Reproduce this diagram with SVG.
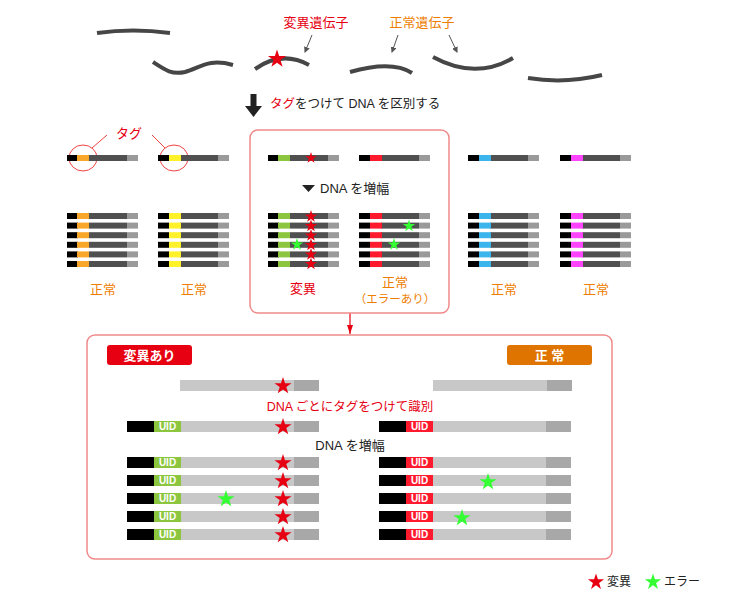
<svg xmlns="http://www.w3.org/2000/svg" xmlns:xlink="http://www.w3.org/1999/xlink" width="730" height="590" viewBox="0 0 730 590">
<style>
text{font-family:"Liberation Sans","Noto Sans CJK JP",sans-serif;}
.gene{fill:none;stroke:#464646;stroke-width:4;}
.t13{font-size:13px;}
.red{fill:#e60012;}
.org{fill:#ee7d00;}
.blk{fill:#222;}
.box{fill:none;stroke:#f08a8a;stroke-width:1.5;}
.k{fill:#000;}
.d{fill:#505050;}
.l{fill:#9a9a9a;}
.bl{fill:#c8c8c8;}
.bd{fill:#a8a8a8;}
.uid{font-size:10px;font-weight:bold;fill:#fff;text-anchor:middle;}
.lab{font-size:13px;text-anchor:middle;}
.ptr{stroke:#555;stroke-width:1;fill:none;}
</style>
<defs>
<path id="star" d="M0,-1 L0.2245,-0.309 L0.9511,-0.309 L0.3633,0.118 L0.5878,0.809 L0,0.382 L-0.5878,0.809 L-0.3633,0.118 L-0.9511,-0.309 L-0.2245,-0.309 Z"/>
<g id="sb"><rect class="k" x="0" y="0" width="11" height="6"/><rect class="d" x="22" y="0" width="38" height="6"/><rect class="l" x="60" y="0" width="11" height="6"/></g>
<g id="bt"><rect class="k" x="0" y="0" width="27" height="11"/><rect class="bl" x="54" y="0" width="113" height="11"/><rect class="bd" x="167" y="0" width="25" height="11"/></g>
<g id="bu"><rect class="bl" x="0" y="0" width="114" height="11"/><rect class="bd" x="114" y="0" width="25" height="11"/></g>
<marker id="ah" markerWidth="6" markerHeight="6" refX="5" refY="3" orient="auto" markerUnits="userSpaceOnUse"><path d="M0,0 L6,3 L0,6 Z" fill="#555"/></marker>
<marker id="ahr" markerWidth="10" markerHeight="6" refX="9" refY="3" orient="auto" markerUnits="userSpaceOnUse"><path d="M0,0 L9,3 L0,6 Z" fill="#e60012"/></marker>
</defs>

<g id="genes">
<path class="gene" d="M97,33 Q133,28 170,33"/>
<path class="gene" d="M153,62 C165,70 172,75 185,72 C200,68 208,58 233,65"/>
<path class="gene" d="M255,69 Q282,50 309,65"/>
<path class="gene" d="M350,72 Q392,60 412,73"/>
<path class="gene" d="M433,57 Q475,80 513,58"/>
<path class="gene" d="M528,78 Q565,84 602,75"/>
<use href="#star" transform="translate(277,59) scale(9.5)" fill="#e60012"/>
</g>

<g id="gene-labels">
<text class="t13 red" x="316" y="27" text-anchor="middle">変異遺伝子</text>
<text class="t13 org" x="422" y="27" text-anchor="middle">正常遺伝子</text>
</g>

<g id="connectors">
<line class="ptr" x1="312" y1="35" x2="305" y2="52" marker-end="url(#ah)"/>
<line class="ptr" x1="398" y1="35" x2="392" y2="52" marker-end="url(#ah)"/>
<line class="ptr" x1="449" y1="35" x2="457" y2="52" marker-end="url(#ah)"/>
<path d="M250.5,94 H256.5 V106 H262 L253.5,117 L245,106 H250.5 Z" fill="#222"/>
<line x1="350" y1="313" x2="350" y2="334" stroke="#e60012" stroke-width="1.2" marker-end="url(#ahr)"/>
<line x1="92" y1="148" x2="107" y2="135" stroke="#ee4444" stroke-width="1"/>
<line x1="152" y1="135" x2="165" y2="148" stroke="#ee4444" stroke-width="1"/>
</g>

<g id="step1-label">
<text class="t13" x="270" y="108" style="font-size:12.5px"><tspan class="red">タグ</tspan><tspan class="blk">をつけて DNA を区別する</tspan></text>
</g>

<g id="tag-label">
<text class="red" x="129" y="138" text-anchor="middle" style="font-size:13px">タグ</text>
<ellipse cx="83" cy="158" rx="14" ry="13" fill="none" stroke="#ee4444" stroke-width="1"/>
<ellipse cx="174" cy="158" rx="14" ry="13" fill="none" stroke="#ee4444" stroke-width="1"/>
</g>

<g id="s1">
<use href="#sb" x="67" y="155"/><rect x="77" y="155" width="12" height="6" fill="#f9a72b"/>
<use href="#sb" x="67" y="213"/><rect x="77" y="213" width="12" height="6" fill="#f9a72b"/>
<use href="#sb" x="67" y="222.6"/><rect x="77" y="222.6" width="12" height="6" fill="#f9a72b"/>
<use href="#sb" x="67" y="232.2"/><rect x="77" y="232.2" width="12" height="6" fill="#f9a72b"/>
<use href="#sb" x="67" y="241.8"/><rect x="77" y="241.8" width="12" height="6" fill="#f9a72b"/>
<use href="#sb" x="67" y="251.4"/><rect x="77" y="251.4" width="12" height="6" fill="#f9a72b"/>
<use href="#sb" x="67" y="261"/><rect x="77" y="261" width="12" height="6" fill="#f9a72b"/>
<text class="lab org" x="103" y="294">正常</text>
</g>

<g id="s2">
<use href="#sb" x="158" y="155"/><rect x="169" y="155" width="12" height="6" fill="#fff22a"/>
<use href="#sb" x="158" y="213"/><rect x="169" y="213" width="12" height="6" fill="#fff22a"/>
<use href="#sb" x="158" y="222.6"/><rect x="169" y="222.6" width="12" height="6" fill="#fff22a"/>
<use href="#sb" x="158" y="232.2"/><rect x="169" y="232.2" width="12" height="6" fill="#fff22a"/>
<use href="#sb" x="158" y="241.8"/><rect x="169" y="241.8" width="12" height="6" fill="#fff22a"/>
<use href="#sb" x="158" y="251.4"/><rect x="169" y="251.4" width="12" height="6" fill="#fff22a"/>
<use href="#sb" x="158" y="261"/><rect x="169" y="261" width="12" height="6" fill="#fff22a"/>
<text class="lab org" x="194" y="294">正常</text>
</g>

<g id="mid-box">
<rect class="box" x="250" y="130" width="199" height="183" rx="8"/>
<path d="M302,185 H315 L308.5,192 Z" fill="#222"/>
<text class="t13 blk" x="320" y="193">DNA を増幅</text>
</g>

<g id="s3">
<use href="#sb" x="268" y="155"/><rect x="278" y="155" width="12" height="6" fill="#8cc63f"/>
<use href="#star" transform="translate(311,158) scale(6)" fill="#e60012"/>
<use href="#sb" x="268" y="213"/><rect x="278" y="213" width="12" height="6" fill="#8cc63f"/>
<use href="#sb" x="268" y="222.6"/><rect x="278" y="222.6" width="12" height="6" fill="#8cc63f"/>
<use href="#sb" x="268" y="232.2"/><rect x="278" y="232.2" width="12" height="6" fill="#8cc63f"/>
<use href="#sb" x="268" y="241.8"/><rect x="278" y="241.8" width="12" height="6" fill="#8cc63f"/>
<use href="#sb" x="268" y="251.4"/><rect x="278" y="251.4" width="12" height="6" fill="#8cc63f"/>
<use href="#sb" x="268" y="261"/><rect x="278" y="261" width="12" height="6" fill="#8cc63f"/>
<use href="#star" transform="translate(311,216.5) scale(6.5)" fill="#e60012"/>
<use href="#star" transform="translate(311,226) scale(6.5)" fill="#e60012"/>
<use href="#star" transform="translate(311,235.5) scale(6.5)" fill="#e60012"/>
<use href="#star" transform="translate(311,245) scale(6.5)" fill="#e60012"/>
<use href="#star" transform="translate(311,254.5) scale(6.5)" fill="#e60012"/>
<use href="#star" transform="translate(311,264) scale(6.5)" fill="#e60012"/>
<use href="#star" transform="translate(297,244.5) scale(6.5)" fill="#33ff33"/>
<text class="lab red" x="303" y="293">変異</text>
</g>

<g id="s4">
<use href="#sb" x="359" y="155"/><rect x="370" y="155" width="12" height="6" fill="#ff1a2e"/>
<use href="#sb" x="359" y="213"/><rect x="370" y="213" width="12" height="6" fill="#ff1a2e"/>
<use href="#sb" x="359" y="222.6"/><rect x="370" y="222.6" width="12" height="6" fill="#ff1a2e"/>
<use href="#sb" x="359" y="232.2"/><rect x="370" y="232.2" width="12" height="6" fill="#ff1a2e"/>
<use href="#sb" x="359" y="241.8"/><rect x="370" y="241.8" width="12" height="6" fill="#ff1a2e"/>
<use href="#sb" x="359" y="251.4"/><rect x="370" y="251.4" width="12" height="6" fill="#ff1a2e"/>
<use href="#sb" x="359" y="261"/><rect x="370" y="261" width="12" height="6" fill="#ff1a2e"/>
<use href="#star" transform="translate(409,226) scale(6.5)" fill="#33ff33"/>
<use href="#star" transform="translate(394,244.5) scale(6.5)" fill="#33ff33"/>
<text class="lab org" x="395" y="287">正常</text>
<text class="org" x="395" y="303" text-anchor="middle" style="font-size:11.5px">（エラーあり）</text>
</g>

<g id="s5">
<use href="#sb" x="468" y="155"/><rect x="479" y="155" width="12" height="6" fill="#3cb5ec"/>
<use href="#sb" x="468" y="213"/><rect x="479" y="213" width="12" height="6" fill="#3cb5ec"/>
<use href="#sb" x="468" y="222.6"/><rect x="479" y="222.6" width="12" height="6" fill="#3cb5ec"/>
<use href="#sb" x="468" y="232.2"/><rect x="479" y="232.2" width="12" height="6" fill="#3cb5ec"/>
<use href="#sb" x="468" y="241.8"/><rect x="479" y="241.8" width="12" height="6" fill="#3cb5ec"/>
<use href="#sb" x="468" y="251.4"/><rect x="479" y="251.4" width="12" height="6" fill="#3cb5ec"/>
<use href="#sb" x="468" y="261"/><rect x="479" y="261" width="12" height="6" fill="#3cb5ec"/>
<text class="lab org" x="504" y="294">正常</text>
</g>

<g id="s6">
<use href="#sb" x="560" y="155"/><rect x="571" y="155" width="12" height="6" fill="#ff44ff"/>
<use href="#sb" x="560" y="213"/><rect x="571" y="213" width="12" height="6" fill="#ff44ff"/>
<use href="#sb" x="560" y="222.6"/><rect x="571" y="222.6" width="12" height="6" fill="#ff44ff"/>
<use href="#sb" x="560" y="232.2"/><rect x="571" y="232.2" width="12" height="6" fill="#ff44ff"/>
<use href="#sb" x="560" y="241.8"/><rect x="571" y="241.8" width="12" height="6" fill="#ff44ff"/>
<use href="#sb" x="560" y="251.4"/><rect x="571" y="251.4" width="12" height="6" fill="#ff44ff"/>
<use href="#sb" x="560" y="261"/><rect x="571" y="261" width="12" height="6" fill="#ff44ff"/>
<text class="lab org" x="596" y="294">正常</text>
</g>

<g id="bottom-box">
<rect class="box" x="87" y="335" width="525" height="224" rx="8"/>
<rect x="107" y="345" width="85" height="20" rx="3" fill="#e60012"/>
<text x="149.5" y="360" text-anchor="middle" fill="#fff" style="font-size:13px;font-weight:bold">変異あり</text>
<rect x="507" y="345" width="85" height="20" rx="3" fill="#df7400"/>
<text x="549.5" y="360" text-anchor="middle" fill="#fff" style="font-size:13px;font-weight:bold">正 常</text>
<text class="red" x="350" y="411" text-anchor="middle" style="font-size:12.5px">DNA ごとにタグをつけて識別</text>
<text class="blk" x="350" y="450" text-anchor="middle" style="font-size:13px">DNA を増幅</text>
</g>

<g id="mut-strands">
<use href="#bu" x="180" y="380"/>
<use href="#star" transform="translate(283,386) scale(9)" fill="#e60012"/>
<use href="#bt" x="127" y="421"/><rect x="154" y="421" width="27" height="11" fill="#8cc63f"/><text class="uid" x="167.5" y="430">UID</text>
<use href="#star" transform="translate(283,427) scale(9)" fill="#e60012"/>
<use href="#bt" x="127" y="457"/><rect x="154" y="457" width="27" height="11" fill="#8cc63f"/><text class="uid" x="167.5" y="466">UID</text>
<use href="#bt" x="127" y="475"/><rect x="154" y="475" width="27" height="11" fill="#8cc63f"/><text class="uid" x="167.5" y="484">UID</text>
<use href="#bt" x="127" y="493"/><rect x="154" y="493" width="27" height="11" fill="#8cc63f"/><text class="uid" x="167.5" y="502">UID</text>
<use href="#bt" x="127" y="511"/><rect x="154" y="511" width="27" height="11" fill="#8cc63f"/><text class="uid" x="167.5" y="520">UID</text>
<use href="#bt" x="127" y="529"/><rect x="154" y="529" width="27" height="11" fill="#8cc63f"/><text class="uid" x="167.5" y="538">UID</text>
<use href="#star" transform="translate(283,463) scale(9)" fill="#e60012"/>
<use href="#star" transform="translate(283,481) scale(9)" fill="#e60012"/>
<use href="#star" transform="translate(283,499) scale(9)" fill="#e60012"/>
<use href="#star" transform="translate(283,517) scale(9)" fill="#e60012"/>
<use href="#star" transform="translate(283,535) scale(9)" fill="#e60012"/>
<use href="#star" transform="translate(226,499) scale(9)" fill="#33ff33"/>
</g>

<g id="norm-strands">
<use href="#bu" x="433" y="380"/>
<use href="#bt" x="379" y="421"/><rect x="406" y="421" width="27" height="11" fill="#ff1a2e"/><text class="uid" x="419.5" y="430">UID</text>
<use href="#bt" x="379" y="457"/><rect x="406" y="457" width="27" height="11" fill="#ff1a2e"/><text class="uid" x="419.5" y="466">UID</text>
<use href="#bt" x="379" y="475"/><rect x="406" y="475" width="27" height="11" fill="#ff1a2e"/><text class="uid" x="419.5" y="484">UID</text>
<use href="#bt" x="379" y="493"/><rect x="406" y="493" width="27" height="11" fill="#ff1a2e"/><text class="uid" x="419.5" y="502">UID</text>
<use href="#bt" x="379" y="511"/><rect x="406" y="511" width="27" height="11" fill="#ff1a2e"/><text class="uid" x="419.5" y="520">UID</text>
<use href="#bt" x="379" y="529"/><rect x="406" y="529" width="27" height="11" fill="#ff1a2e"/><text class="uid" x="419.5" y="538">UID</text>
<use href="#star" transform="translate(488,482) scale(9)" fill="#33ff33"/>
<use href="#star" transform="translate(462,518) scale(9)" fill="#33ff33"/>
</g>

<g id="legend">
<use href="#star" transform="translate(596,582) scale(8.5)" fill="#e60012"/>
<text class="blk" x="607" y="586" style="font-size:12px">変異</text>
<use href="#star" transform="translate(653,582) scale(8.5)" fill="#33ff33"/>
<text class="blk" x="664" y="586" style="font-size:12px">エラー</text>
</g>
</svg>
